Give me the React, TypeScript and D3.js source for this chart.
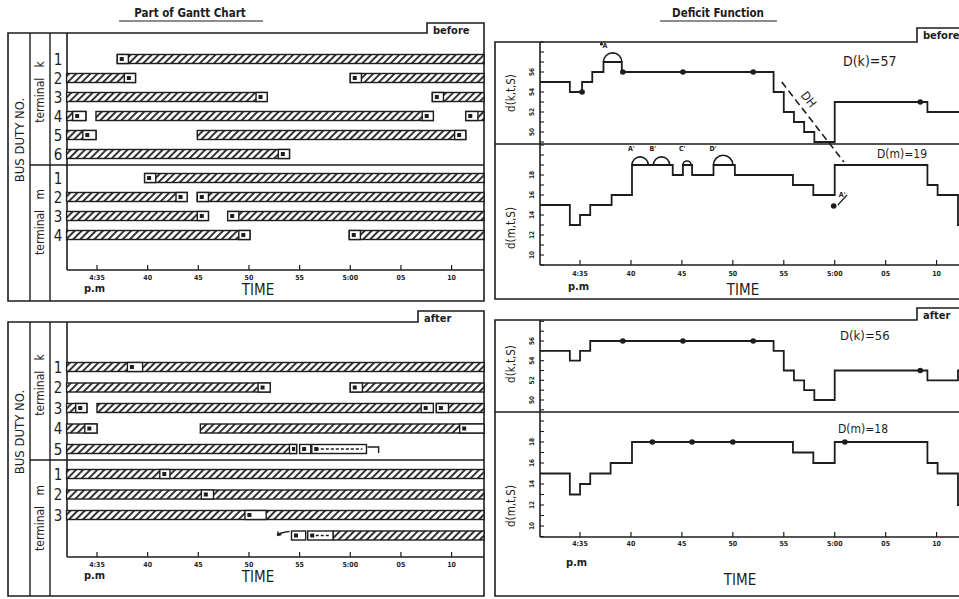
import React from "react";
import * as d3 from "d3";

// time is in minutes after 4:30 pm
const timeTicks = [5, 10, 15, 20, 25, 30, 35, 40];
const timeLabels = ["4:35", "40", "45", "50", "55", "5:00", "05", "10"];

// Gantt chart, before: bars [row, start, end] and trip label boxes [row, start, end]
const beforeRows = ["k1", "k2", "k3", "k4", "k5", "k6", "m1", "m2", "m3", "m4"];
const beforeBars: [string, number, number][] = [
  ["k1", 7, 43.2],
  ["k2", 2, 8.8], ["k2", 30, 43.2],
  ["k3", 2, 21.8], ["k3", 38.1, 43.2],
  ["k4", 2, 3.9], ["k4", 4.9, 38.2], ["k4", 41.4, 43.2],
  ["k5", 2, 4.9], ["k5", 14.9, 41.4],
  ["k6", 2, 24],
  ["m1", 9.7, 43.2],
  ["m2", 2, 13.9], ["m2", 14.9, 43.2],
  ["m3", 2, 16], ["m3", 17.9, 43.2],
  ["m4", 2, 20.1], ["m4", 29.9, 43.2],
];
const beforeBoxes: [string, number, number][] = [
  ["k1", 7, 8.1],
  ["k2", 7.7, 8.8], ["k2", 30, 31.1],
  ["k3", 20.7, 21.8], ["k3", 38.1, 39.2],
  ["k4", 2.6, 3.9], ["k4", 37.1, 38.2], ["k4", 41.4, 42.6],
  ["k5", 3.6, 4.9], ["k5", 40.3, 41.4],
  ["k6", 22.9, 24],
  ["m1", 9.7, 10.8],
  ["m2", 12.8, 13.9], ["m2", 14.9, 16],
  ["m3", 14.9, 16], ["m3", 17.9, 19],
  ["m4", 19, 20.1], ["m4", 29.9, 31],
];

// Gantt chart, after ("mx" is the moved duty without a number)
const afterRows = ["k1", "k2", "k3", "k4", "k5", "m1", "m2", "m3", "mx"];
const afterBars: [string, number, number][] = [
  ["k1", 2, 43.2],
  ["k2", 2, 22.1], ["k2", 30, 43.2],
  ["k3", 2, 4], ["k3", 5, 38.2], ["k3", 38.5, 43.2],
  ["k4", 2, 5], ["k4", 15.2, 43.2],
  ["k5", 2, 24.7],
  ["m1", 2, 43.2],
  ["m2", 2, 43.2],
  ["m3", 2, 43.2],
  ["mx", 28.3, 43.2],
];
const afterBoxes: [string, number, number][] = [
  ["k1", 8, 9.5],
  ["k2", 20.9, 22.1], ["k2", 30, 31.2],
  ["k3", 2.9, 4], ["k3", 37, 38.2], ["k3", 38.5, 39.7],
  ["k4", 3.8, 5], ["k4", 40.8, 43.2],
  ["k5", 24, 24.7], ["k5", 25, 26.1], ["k5", 26.2, 31.6],
  ["m1", 11.2, 12.2],
  ["m2", 15.3, 16.5],
  ["m3", 19.6, 21.7],
  ["mx", 24.2, 25.6], ["mx", 25.8, 28.3],
];

// deficit functions [time, d]
const kBefore: [number, number][] = [
  [1.07, 55], [4, 54], [5.2, 55], [6.2, 56], [7.3, 57], [9.1, 56], [24, 54], [25, 52],
  [26, 51], [27, 50], [28, 49], [30, 53], [39.1, 52], [42.2, 52],
];
const mBefore: [number, number][] = [
  [1.07, 15], [4, 13], [5, 14], [6, 15], [8.1, 16], [10.1, 19], [14.1, 18], [15.1, 19],
  [16, 18], [18.1, 19], [20.2, 18], [25.9, 17], [27.9, 16], [30, 19], [39.1, 17],
  [40.1, 16], [42.1, 13], [42.2, 13],
];
const kAfter: [number, number][] = [
  [1.07, 55], [4, 54], [5, 55], [6, 56], [24, 55], [25, 53], [26, 52], [27, 51],
  [28, 50], [30, 53], [39.1, 52], [42.1, 53], [42.2, 53],
];
const mAfter: [number, number][] = [
  [1.07, 15], [4, 13], [5, 14], [6, 15], [8, 16], [10.1, 18], [25.9, 17], [27.9, 16],
  [30, 18], [39.1, 16], [40.1, 15], [42.1, 12], [42.2, 12],
];
const kBeforeDots: [number, number][] = [[5.2, 54], [9.2, 56], [15.1, 56], [22, 56], [38.4, 53]];
const mBeforeDots: [number, number][] = [[29.9, 14.9]];
const kAfterDots: [number, number][] = [[9.2, 56], [15.1, 56], [22, 56], [38.4, 53]];
const mAfterDots: [number, number][] = [[12.1, 18], [16, 18], [20, 18], [31, 18]];
const kBeforeHumps: [number, number, number][] = [[7.3, 9.1, 57]];
const mBeforeHumps: [number, number, number][] = [[10.1, 11.7, 19], [12.2, 13.8, 19], [15.1, 15.9, 19], [18.1, 20, 19]];
const humpNames = ["A'", "B'", "C'", "D'"];
const kTicks = [56, 54, 52, 50];
const mTicks = [18, 16, 14, 12, 10];

const ink = "#1d1d1d";
const font = "'DejaVu Sans Condensed', 'DejaVu Sans', sans-serif";

const xL = d3.scaleLinear().domain([2.04, 43.2]).range([67, 484]);
const xR = d3.scaleLinear().domain([1.07, 42.2]).range([540, 959]);

const Frame = ({ left, right, top, bottom, tabLeft, tabTop, label }: any) => (
  <g>
    <path
      d={`M${left},${bottom}V${top}H${tabLeft}V${tabTop}H${right}V${bottom}H${left}Z`}
      fill="none"
      stroke={ink}
      strokeWidth={1.6}
    />
    <text x={tabLeft + 6} y={tabTop + 11} fontSize={11} fontWeight="bold" fontFamily={font} fill={ink}>
      {label}
    </text>
  </g>
);

const TimeAxis = ({ x, y, x0, x1, labelDy, pmX, pmY, timeX, timeY }: any) => (
  <g fontFamily={font} fill={ink}>
    <line x1={x0} x2={x1} y1={y} y2={y} stroke={ink} strokeWidth={1.6} />
    {timeTicks.map((t, i) => (
      <g key={t}>
        <line x1={x(t)} x2={x(t)} y1={y} y2={y - 5} stroke={ink} strokeWidth={1.2} />
        <text x={x(t)} y={y + labelDy} fontSize={7} fontWeight="bold" textAnchor="middle">
          {timeLabels[i]}
        </text>
      </g>
    ))}
    <text x={pmX} y={pmY} fontSize={11} fontWeight="bold">p.m</text>
    <text x={timeX} y={timeY} fontSize={15} textAnchor="middle">TIME</text>
  </g>
);

const Gantt = ({ top, bottom, tabLeft, tabTop, label, rows, rowY, bars, boxes, sepY, axisY, busY, kY, mY, rowLabels, extra }: any) => {
  const y = (r: string) => rowY(rows.indexOf(r));
  return (
    <g>
      <Frame left={8} right={484} top={top} bottom={bottom} tabLeft={tabLeft} tabTop={tabTop} label={label} />
      <line x1={30} x2={30} y1={top} y2={bottom} stroke={ink} strokeWidth={1.4} />
      <line x1={50} x2={50} y1={top} y2={bottom} stroke={ink} strokeWidth={1.4} />
      <line x1={67} x2={67} y1={top} y2={axisY} stroke={ink} strokeWidth={1.6} />
      <line x1={30} x2={484} y1={sepY} y2={sepY} stroke={ink} strokeWidth={1.4} />
      <text transform={`translate(24,${busY}) rotate(-90)`} textAnchor="middle" fontSize={13} fontFamily={font} fill={ink}>
        BUS DUTY NO.
      </text>
      <text transform={`translate(44,${kY}) rotate(-90)`} textAnchor="middle" fontSize={12} fontFamily={font} fill={ink}>
        terminal{"\u00a0\u00a0\u00a0"}k
      </text>
      <text transform={`translate(44,${mY}) rotate(-90)`} textAnchor="middle" fontSize={12} fontFamily={font} fill={ink}>
        terminal{"\u00a0\u00a0\u00a0"}m
      </text>
      {rows.map((r: string) =>
        rowLabels[r] ? (
          <text key={r} x={58} y={y(r) + 5.5} textAnchor="middle" fontSize={15} fontFamily={font} fill={ink}>
            {rowLabels[r]}
          </text>
        ) : null
      )}
      {bars.map(([r, s, e]: [string, number, number], i: number) => (
        <rect key={i} x={xL(s)} y={y(r) - 4.5} width={xL(e) - xL(s)} height={9} fill="url(#hatch)" stroke={ink} strokeWidth={1.4} />
      ))}
      {boxes.map(([r, s, e]: [string, number, number], i: number) => (
        <g key={i}>
          <rect x={xL(s)} y={y(r) - 4.5} width={xL(e) - xL(s)} height={9} fill="#fff" stroke={ink} strokeWidth={1.4} />
          <rect x={xL(s) + 2.5} y={y(r) - 2} width={Math.min(4, xL(e) - xL(s) - 4)} height={4} fill={ink} />
        </g>
      ))}
      {extra}
      <TimeAxis x={xL} y={axisY} x0={67} x1={484} labelDy={10} pmX={84} pmY={axisY + 22} timeX={258} timeY={axisY + 25} />
    </g>
  );
};

const StepPlot = ({ y, data, dots, humps, ticks, top, bottom, label, labelY, dLabel, dX, dY, dSize }: any) => {
  const line = d3
    .line<[number, number]>()
    .x((d) => xR(d[0]))
    .y((d) => y(d[1]))
    .curve(d3.curveStepAfter);
  const lo = Math.ceil(y.invert(bottom));
  const hi = Math.floor(y.invert(top));
  const minor = d3.range(lo, hi + 1);
  return (
    <g fontFamily={font} fill={ink}>
      <line x1={540} x2={540} y1={top} y2={bottom} stroke={ink} strokeWidth={1.6} />
      {minor.map((v) => (
        <line key={v} x1={540} x2={544} y1={y(v)} y2={y(v)} stroke={ink} strokeWidth={1.1} />
      ))}
      {ticks.map((v: number) => (
        <text key={v} transform={`translate(534,${y(v)}) rotate(-90)`} textAnchor="middle" fontSize={6.5} fontWeight="bold">
          {v}
        </text>
      ))}
      <text transform={`translate(515,${labelY}) rotate(-90)`} textAnchor="middle" fontSize={11.5}>
        {label}
      </text>
      <path d={line(data) || ""} fill="none" stroke={ink} strokeWidth={1.8} />
      {(humps || []).map(([a, b, v]: number[], i: number) => {
        const r = (xR(b) - xR(a)) / 2;
        return (
          <path key={i} d={`M${xR(a)},${y(v)}A${r},${r} 0 0 1 ${xR(b)},${y(v)}`} fill="none" stroke={ink} strokeWidth={1.6} />
        );
      })}
      {dots.map(([t, v]: number[], i: number) => (
        <circle key={i} cx={xR(t)} cy={y(v)} r={2.8} fill={ink} />
      ))}
      <text x={dX} y={dY} fontSize={dSize}>{dLabel}</text>
    </g>
  );
};

export default function App() {
  const beforeRowY = (i: number) => (i < 6 ? 59 + 19 * i : 178 + 19 * (i - 6));
  const afterRowY = (i: number) => (i < 5 ? 367 + 20.5 * i : 474 + 20.5 * (i - 5));
  const yAfter = (r: string) => afterRowY(afterRows.indexOf(r));

  const kBY = d3.scaleLinear().domain([56, 50]).range([72, 132]);
  const mBY = d3.scaleLinear().domain([18, 10]).range([175, 255]);
  const kAY = d3.scaleLinear().domain([56, 50]).range([341, 400]);
  const mAY = d3.scaleLinear().domain([18, 10]).range([442, 526]);

  // DH line runs from the k curve down into the m panel
  const dh0: [number, number] = [xR(24.8), kBY(55)];
  const dh1: [number, number] = [xR(30.9), mBY(19.3)];
  const dhAngle = (Math.atan2(dh1[1] - dh0[1], dh1[0] - dh0[0]) * 180) / Math.PI;
  const dhX = dh0[0] + (dh1[0] - dh0[0]) * 0.3 + 5;
  const dhY = dh0[1] + (dh1[1] - dh0[1]) * 0.3 - 4;

  const k5y = yAfter("k5");
  const mxy = yAfter("mx");

  return (
    <svg width={959} height={599} style={{ position: "absolute", left: 0, top: 0, background: "#fff" }}>
      <defs>
        <pattern id="hatch" width={5} height={5} patternUnits="userSpaceOnUse" patternTransform="rotate(45)">
          <rect width={5} height={5} fill="#fff" />
          <line x1={1} y1={0} x2={1} y2={5} stroke={ink} strokeWidth={1.8} />
        </pattern>
      </defs>

      {/* titles */}
      <g fontFamily={font} fill={ink} fontSize={11.5} fontWeight="bold">
        <text x={190} y={17} textAnchor="middle">Part of Gantt Chart</text>
        <line x1={119} x2={263} y1={21} y2={21} stroke={ink} strokeWidth={1.2} />
        <text x={718} y={17} textAnchor="middle">Deficit Function</text>
        <line x1={660} x2={777} y1={21} y2={21} stroke={ink} strokeWidth={1.2} />
      </g>

      <Gantt
        top={33}
        bottom={301}
        tabLeft={427}
        tabTop={23}
        label="before"
        rows={beforeRows}
        rowY={beforeRowY}
        bars={beforeBars}
        boxes={beforeBoxes}
        sepY={165}
        axisY={270}
        busY={140}
        kY={92}
        mY={222}
        rowLabels={{ k1: "1", k2: "2", k3: "3", k4: "4", k5: "5", k6: "6", m1: "1", m2: "2", m3: "3", m4: "4" }}
      />
      <Gantt
        top={322}
        bottom={596}
        tabLeft={418}
        tabTop={311}
        label="after"
        rows={afterRows}
        rowY={afterRowY}
        bars={afterBars}
        boxes={afterBoxes}
        sepY={460}
        axisY={557}
        busY={432}
        kY={385}
        mY={518}
        rowLabels={{ k1: "1", k2: "2", k3: "3", k4: "4", k5: "5", m1: "1", m2: "2", m3: "3" }}
        extra={
          <g fill="none" stroke={ink} strokeWidth={1.4}>
            <line x1={xL(26.6)} x2={xL(31.2)} y1={k5y} y2={k5y} strokeDasharray="3,2" />
            <path d={`M${xL(31.7)},${k5y - 2}H${xL(32.8)}V${k5y + 4}`} />
            <line x1={xL(26.1)} x2={xL(27.9)} y1={mxy} y2={mxy} strokeDasharray="3,2" />
            <path d={`M${xL(24)},${mxy - 4}Q${xL(23)},${mxy - 3} ${xL(22.8)},${mxy}M${xL(22.8)},${mxy}l4,-1M${xL(22.8)},${mxy}l1,-4`} />
          </g>
        }
      />

      {/* deficit function, before */}
      <Frame left={495} right={990} top={42} bottom={299} tabLeft={917} tabTop={28} label="before" />
      <line x1={495} x2={959} y1={144} y2={144} stroke={ink} strokeWidth={1.6} />
      <StepPlot y={kBY} data={kBefore} dots={kBeforeDots} humps={kBeforeHumps} ticks={kTicks} top={42} bottom={144}
        label="d(k,t,S)" labelY={93} dLabel="D(k)=57" dX={843} dY={66} dSize={14} />
      <StepPlot y={mBY} data={mBefore} dots={mBeforeDots} humps={mBeforeHumps} ticks={mTicks} top={144} bottom={265}
        label="d(m,t,S)" labelY={228} dLabel="D(m)=19" dX={877} dY={158} dSize={12} />
      <TimeAxis x={xR} y={265} x0={540} x1={959} labelDy={11} pmX={568} pmY={290} timeX={743} timeY={295} />
      <g fontFamily={font} fill={ink} fontSize={7} fontWeight="bold">
        <text x={xR(7.2)} y={kBY(58.4)}>A</text>
        <circle cx={xR(7.1)} cy={kBY(58.8)} r={1.6} />
        {mBeforeHumps.map(([a], i) => (
          <text key={i} x={xR(a) - 4} y={mBY(20.4)}>{humpNames[i]}</text>
        ))}
        <text x={xR(30.4)} y={mBY(15.8)}>A'</text>
        <line x1={xR(30.3)} y1={mBY(15)} x2={xR(31.2)} y2={mBY(16)} stroke={ink} strokeWidth={1.2} />
      </g>
      <line x1={dh0[0]} y1={dh0[1]} x2={dh1[0]} y2={dh1[1]} stroke={ink} strokeWidth={1.6} strokeDasharray="7,4" />
      <text
        transform={`translate(${dhX},${dhY}) rotate(${dhAngle})`}
        fontSize={12}
        fontFamily={font}
        fill={ink}
        textAnchor="middle"
      >
        DH
      </text>

      {/* deficit function, after */}
      <Frame left={495} right={990} top={320} bottom={596} tabLeft={917} tabTop={308} label="after" />
      <line x1={495} x2={959} y1={412} y2={412} stroke={ink} strokeWidth={1.6} />
      <StepPlot y={kAY} data={kAfter} dots={kAfterDots} ticks={kTicks} top={320} bottom={412}
        label="d(k,t,S)" labelY={364} dLabel="D(k)=56" dX={840} dY={340} dSize={13} />
      <StepPlot y={mAY} data={mAfter} dots={mAfterDots} ticks={mTicks} top={412} bottom={537}
        label="d(m,t,S)" labelY={506} dLabel="D(m)=18" dX={838} dY={433} dSize={12} />
      <TimeAxis x={xR} y={537} x0={540} x1={959} labelDy={9} pmX={566} pmY={566} timeX={740} timeY={585} />
    </svg>
  );
}
